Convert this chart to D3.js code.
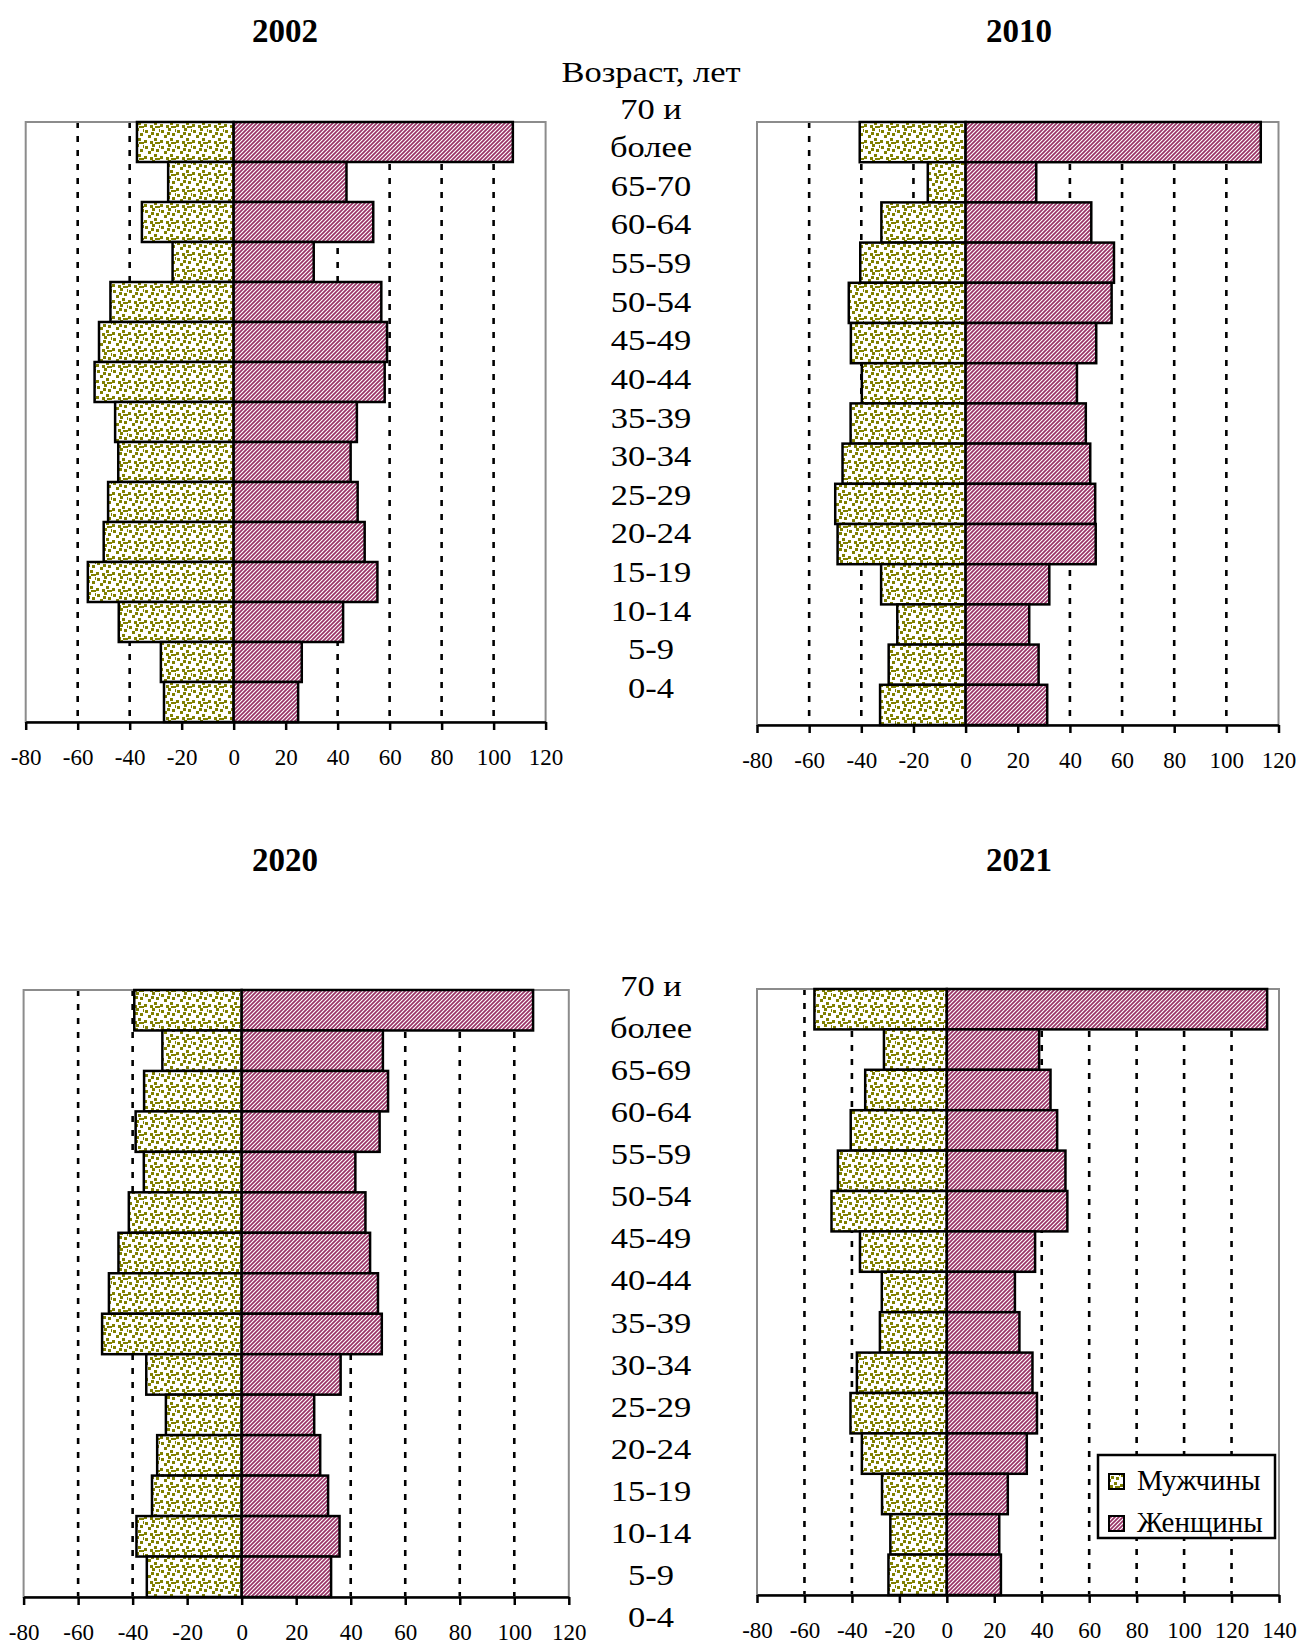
<!DOCTYPE html>
<html>
<head>
<meta charset="utf-8">
<script src="https://cdn.jsdelivr.net/npm/d3@7"></script>
<style>
  body { margin: 0; background: #fff; }
  text { font-family: "Liberation Serif", "Times New Roman", serif; fill: #000; }
</style>
</head>
<body>
<script>
// age groups, top to bottom
var groups = ["70+", "65-69", "60-64", "55-59", "50-54", "45-49", "40-44", "35-39",
              "30-34", "25-29", "20-24", "15-19", "10-14", "5-9", "0-4"];

// text column between the charts
var labelsTop = ["70 и", "более", "65-70", "60-64", "55-59", "50-54", "45-49", "40-44",
                 "35-39", "30-34", "25-29", "20-24", "15-19", "10-14", "5-9", "0-4"];
var labelsBottom = ["70 и", "более", "65-69", "60-64", "55-59", "50-54", "45-49", "40-44",
                    "35-39", "30-34", "25-29", "20-24", "15-19", "10-14", "5-9", "0-4"];

var ticks120 = [-80, -60, -40, -20, 0, 20, 40, 60, 80, 100, 120];
var ticks140 = [-80, -60, -40, -20, 0, 20, 40, 60, 80, 100, 120, 140];

var male2002   = [-37.2, -25.2, -35.3, -23.5, -47.4, -51.8, -53.5, -45.6, -44.4, -48.3, -50, -56.1, -44.2, -28, -26.8];
var female2002 = [107.4, 43.4, 53.7, 30.8, 56.8, 59, 58.1, 47.4, 45, 47.7, 50.4, 55.3, 42.1, 26.2, 24.8];

var male2010   = [-40.6, -14.5, -32.3, -40.4, -44.8, -44, -39.8, -44.1, -47.2, -50, -49.1, -32.4, -26.2, -29.5, -32.8];
var female2010 = [113.2, 27.1, 48.2, 56.9, 56, 50.1, 42.7, 46.1, 47.8, 49.7, 49.9, 32.1, 24.4, 28, 31.3];

var male2020   = [-39.4, -29.1, -35.8, -38.9, -35.9, -41.4, -45.2, -48.7, -51.2, -35, -27.8, -31, -32.9, -38.6, -34.8];
var female2020 = [106.9, 51.8, 53.7, 50.6, 41.7, 45.4, 47.1, 50, 51.4, 36.3, 26.6, 28.8, 31.7, 35.9, 32.8];

var male2021   = [-55.8, -26.5, -34.4, -40.5, -45.9, -48.6, -36.6, -27.4, -28.2, -37.9, -40.6, -35.8, -27.3, -23.8, -24.6];
var female2021 = [135, 38.9, 43.7, 46.5, 50, 50.8, 37.2, 28.7, 30.6, 36.1, 38, 33.7, 25.7, 22.1, 22.8];

var W = 1301, H = 1645;

var svg = d3.select("body").append("svg")
  .attr("width", W)
  .attr("height", H);

// fill patterns: olive confetti for men, plum diagonal stripes for women
var defs = svg.append("defs");
var dots = defs.append("pattern")
  .attr("id", "dots")
  .attr("patternUnits", "userSpaceOnUse")
  .attr("width", 16).attr("height", 16);
dots.append("rect").attr("width", 16).attr("height", 16).attr("fill", "#fff");
[[1, 2], [8, 0], [12, 5], [4, 7], [10, 10], [0, 12], [6, 13], [14, 14], [15, 1], [7, 4], [11, 14]].forEach(function (p) {
  dots.append("rect")
    .attr("x", p[0]).attr("y", p[1])
    .attr("width", 3).attr("height", 3)
    .attr("fill", "#808000");
});

var stripes = defs.append("pattern")
  .attr("id", "stripes")
  .attr("patternUnits", "userSpaceOnUse")
  .attr("width", 4).attr("height", 4);
stripes.append("rect").attr("width", 4).attr("height", 4).attr("fill", "#fff");
stripes.append("path")
  .attr("d", "M-1,1 l2,-2 M0,4 l4,-4 M3,5 l2,-2")
  .attr("stroke", "#993366")
  .attr("stroke-width", 1.7);

var panels = [
  { title: "2002", male: male2002, female: female2002, ticks: ticks120, left: 25.7, right: 545.6, top: 122, bottom: 722, titleX: 285, titleY: 42 },
  { title: "2010", male: male2010, female: female2010, ticks: ticks120, left: 757, right: 1278.5, top: 122, bottom: 725, titleX: 1019, titleY: 42 },
  { title: "2020", male: male2020, female: female2020, ticks: ticks120, left: 23.6, right: 568.8, top: 990, bottom: 1597, titleX: 285, titleY: 871 },
  { title: "2021", male: male2021, female: female2021, ticks: ticks140, left: 757, right: 1279, top: 989, bottom: 1595, titleX: 1019, titleY: 871 }
];

panels.forEach(function (p) {
  var x = d3.scaleLinear()
    .domain([p.ticks[0], p.ticks[p.ticks.length - 1]])
    .range([p.left, p.right]);
  var y = d3.scaleBand()
    .domain(groups)
    .range([p.top, p.bottom])
    .padding(0);

  var g = svg.append("g");

  g.append("text")
    .attr("x", p.titleX)
    .attr("y", p.titleY)
    .attr("text-anchor", "middle")
    .style("font-size", "33px")
    .style("font-weight", "bold")
    .text(p.title);

  // dashed grid
  g.selectAll(".grid")
    .data(p.ticks.slice(1, -1))
    .enter()
    .append("line")
    .attr("x1", function (d) { return x(d); })
    .attr("x2", function (d) { return x(d); })
    .attr("y1", p.top)
    .attr("y2", p.bottom)
    .attr("stroke", "#000")
    .attr("stroke-width", 2.6)
    .attr("stroke-dasharray", "6,8");

  // grey frame
  g.append("rect")
    .attr("x", p.left)
    .attr("y", p.top)
    .attr("width", p.right - p.left)
    .attr("height", p.bottom - p.top)
    .attr("fill", "none")
    .attr("stroke", "#8c8c8c")
    .attr("stroke-width", 2);

  var rows = groups.map(function (a, i) { return { age: a, m: p.male[i], f: p.female[i] }; });

  g.selectAll(".male")
    .data(rows)
    .enter()
    .append("rect")
    .attr("x", function (d) { return x(d.m); })
    .attr("y", function (d) { return y(d.age); })
    .attr("width", function (d) { return x(0) - x(d.m); })
    .attr("height", y.bandwidth())
    .attr("fill", "url(#dots)")
    .attr("stroke", "#000")
    .attr("stroke-width", 2.5);

  g.selectAll(".female")
    .data(rows)
    .enter()
    .append("rect")
    .attr("x", x(0))
    .attr("y", function (d) { return y(d.age); })
    .attr("width", function (d) { return x(d.f) - x(0); })
    .attr("height", y.bandwidth())
    .attr("fill", "url(#stripes)")
    .attr("stroke", "#000")
    .attr("stroke-width", 2.5);

  var axis = g.append("g")
    .attr("transform", "translate(0," + p.bottom + ")")
    .call(d3.axisBottom(x)
      .tickValues(p.ticks)
      .tickSize(8)
      .tickSizeOuter(0)
      .tickPadding(19)
      .tickFormat(function (d) { return String(d); }));
  axis.attr("font-family", null);
  axis.select(".domain").attr("stroke", "#000").attr("stroke-width", 2.7);
  axis.selectAll(".tick line").attr("stroke", "#000").attr("stroke-width", 2.5);
  axis.selectAll(".tick text")
    .style("font-family", "'Liberation Serif', 'Times New Roman', serif")
    .style("font-size", "23px")
    .attr("fill", "#000");
});

// age column (the source text is a bit wider than normal, hence the x-stretch)
var colX = 651;
var stretch = 1.15;
svg.append("text")
  .attr("transform", "translate(" + colX + ",81.7) scale(" + stretch + ",1)")
  .attr("text-anchor", "middle")
  .style("font-size", "30px")
  .text("Возраст, лет");

var yTop = d3.scaleLinear().domain([0, labelsTop.length - 1]).range([118.5, 698]);
svg.selectAll(".labTop")
  .data(labelsTop)
  .enter()
  .append("text")
  .attr("transform", function (d, i) { return "translate(" + colX + "," + yTop(i) + ") scale(" + stretch + ",1)"; })
  .attr("text-anchor", "middle")
  .style("font-size", "30px")
  .text(function (d) { return d; });

var yBot = d3.scaleLinear().domain([0, labelsBottom.length - 1]).range([996, 1627]);
svg.selectAll(".labBot")
  .data(labelsBottom)
  .enter()
  .append("text")
  .attr("transform", function (d, i) { return "translate(" + colX + "," + yBot(i) + ") scale(" + stretch + ",1)"; })
  .attr("text-anchor", "middle")
  .style("font-size", "30px")
  .text(function (d) { return d; });

// legend
var legend = svg.append("g");
legend.append("rect")
  .attr("x", 1098).attr("y", 1455)
  .attr("width", 177).attr("height", 83)
  .attr("fill", "#fff")
  .attr("stroke", "#000")
  .attr("stroke-width", 2.5);
var legendItems = [
  { name: "Мужчины", fill: "url(#dots)" },
  { name: "Женщины", fill: "url(#stripes)" }
];
legendItems.forEach(function (d, i) {
  legend.append("rect")
    .attr("x", 1109).attr("y", 1474 + i * 42)
    .attr("width", 15).attr("height", 15)
    .attr("fill", d.fill)
    .attr("stroke", "#000")
    .attr("stroke-width", 2);
  legend.append("text")
    .attr("x", 1137).attr("y", 1490 + i * 42)
    .style("font-size", "29px")
    .text(d.name);
});
</script>
</body>
</html>
